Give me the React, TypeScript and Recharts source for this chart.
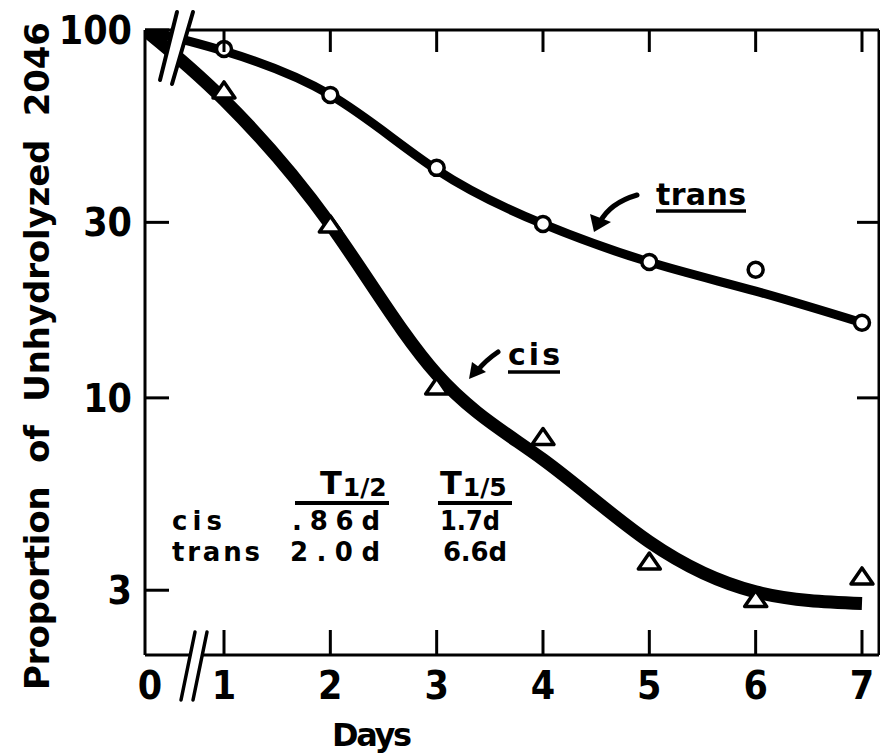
import React from 'react';
import { ComposedChart, Line, Scatter, XAxis, YAxis } from 'recharts';

// ---- data ----
const days = [0, 1, 2, 3, 4, 5, 6, 7];
const transFit = [100, 87.7, 66.6, 41.7, 29.7, 23.4, 19.5, 16.0];
const cisFit = [100, 64.6, 29.6, 11.6, 6.8, 4.06, 2.97, 2.76];
const obsDays = [1, 2, 3, 4, 5, 6, 7];
const transObs = [88.8, 66.6, 42.2, 29.7, 23.4, 22.3, 16.0];
const cisObs = [68.3, 29.5, 10.7, 7.8, 3.58, 2.83, 3.26];
const xTickDays = [0, 1, 2, 3, 4, 5, 6, 7];
const topTickDays = [1, 2, 3, 4, 5, 6, 7];
const yTicks = [3, 10, 30, 100];
const rightTicks = [10, 30];
const yDomain = [2, 100];
const BREAK_AT = 0.257; // axis position where day 0 sits (broken axis)
const X_MAX = 7.16;

const pos = (d: number) => (d === 0 ? BREAK_AT : d);

const fitData = days.map((d, i) => ({ x: pos(d), trans: transFit[i], cis: cisFit[i] }));
const transPts = obsDays.map((d, i) => ({ x: pos(d), y: transObs[i] }));
const cisPts = obsDays.map((d, i) => ({ x: pos(d), y: cisObs[i] }));

const NUM_FONT = "'Liberation Sans Narrow', 'DejaVu Sans Condensed', 'Liberation Sans', sans-serif";
const LBL_FONT = "'DejaVu Sans', 'Liberation Sans', sans-serif";
const INK = '#000';

const Y_MARGIN = 13;
const X_MARGIN = 14;

const LeftTick = (p: any) => {
  const ax = p.x + Y_MARGIN;
  return (
    <g>
      <line x1={ax} x2={ax + 24} y1={p.y} y2={p.y} stroke={INK} strokeWidth={3} />
      <text x={p.x} y={p.y} dy={14} textAnchor="end" fontFamily={NUM_FONT} fontWeight="bold" fontSize={39} fill={INK}>
        {p.payload.value}
      </text>
    </g>
  );
};

const BottomTick = (p: any) => {
  const ay = p.y - X_MARGIN;
  const v = p.payload.value;
  const isZero = v === BREAK_AT;
  return (
    <g>
      {!isZero && <line x1={p.x} x2={p.x} y1={ay} y2={ay - 25} stroke={INK} strokeWidth={3} />}
      <text x={isZero ? p.x + 5 : p.x} y={p.y} dy={30} textAnchor="middle" fontFamily={NUM_FONT} fontWeight="bold" fontSize={39} fill={INK}>
        {isZero ? '0' : v}
      </text>
    </g>
  );
};

const TopTick = (p: any) => (
  <line x1={p.x} x2={p.x} y1={p.y} y2={p.y + 22} stroke={INK} strokeWidth={3} />
);

const RightTick = (p: any) => (
  <line x1={p.x} x2={p.x - 22} y1={p.y} y2={p.y} stroke={INK} strokeWidth={3} />
);

const CircleMark = (p: any) => (
  <circle cx={p.cx} cy={p.cy} r={7.5} fill="#fff" stroke={INK} strokeWidth={3.5} />
);

const TriMark = (p: any) => (
  <polygon
    points={`${p.cx},${p.cy - 9} ${p.cx + 11},${p.cy + 7} ${p.cx - 11},${p.cy + 7}`}
    fill="#fff"
    stroke={INK}
    strokeWidth={3.5}
    strokeLinejoin="round"
  />
);

const axisLine = { stroke: INK, strokeWidth: 3 };
const tbl = { fontFamily: LBL_FONT, fontWeight: 'bold' as const, fill: INK, fontSize: 26 };

export default function App() {
  return (
    <div style={{ position: 'absolute', left: 0, top: 0, width: 880, height: 756, background: '#fff' }}>
      <ComposedChart width={880} height={756} data={fitData} margin={{ top: 0, right: 0, bottom: 0, left: 0 }}>
        <XAxis
          dataKey="x"
          type="number"
          domain={[BREAK_AT, X_MAX]}
          ticks={xTickDays.map(pos)}
          interval={0}
          allowDataOverflow
          height={101}
          tickSize={0}
          tickMargin={X_MARGIN}
          tickLine={false}
          axisLine={axisLine}
          tick={(p: any) => <BottomTick {...p} />}
        />
        <XAxis
          xAxisId="top"
          orientation="top"
          dataKey="x"
          type="number"
          domain={[BREAK_AT, X_MAX]}
          ticks={topTickDays}
          interval={0}
          allowDataOverflow
          height={30}
          tickSize={0}
          tickMargin={0}
          tickLine={false}
          axisLine={axisLine}
          tick={(p: any) => <TopTick {...p} />}
        />
        <YAxis
          type="number"
          scale="log"
          domain={yDomain}
          ticks={yTicks}
          interval={0}
          allowDataOverflow
          width={145}
          tickSize={0}
          tickMargin={Y_MARGIN}
          tickLine={false}
          axisLine={axisLine}
          tick={(p: any) => <LeftTick {...p} />}
        />
        <YAxis
          yAxisId="right"
          orientation="right"
          type="number"
          scale="log"
          domain={yDomain}
          ticks={rightTicks}
          interval={0}
          allowDataOverflow
          width={1}
          tickSize={0}
          tickMargin={0}
          tickLine={false}
          axisLine={axisLine}
          tick={(p: any) => <RightTick {...p} />}
        />
        <Line dataKey="trans" type="natural" stroke={INK} strokeWidth={9} dot={false} isAnimationActive={false} />
        <Line dataKey="cis" type="natural" stroke={INK} strokeWidth={13} dot={false} isAnimationActive={false} />
        <Scatter data={transPts} dataKey="y" shape={CircleMark} isAnimationActive={false} />
        <Scatter data={cisPts} dataKey="y" shape={TriMark} isAnimationActive={false} />
      </ComposedChart>

      <svg width={880} height={756} style={{ position: 'absolute', left: 0, top: 0, pointerEvents: 'none' }}>
        {/* axis breaks */}
        <polygon points="177,12 193,12 172,84 160,80" fill="#fff" />
        <line x1={177} y1={12} x2={160} y2={80} stroke={INK} strokeWidth={4} strokeLinecap="round" />
        <line x1={193} y1={12} x2={172} y2={84} stroke={INK} strokeWidth={4} strokeLinecap="round" />
        <polygon points="195,632 207,632 193,700 181,700" fill="#fff" />
        <line x1={195} y1={632} x2={181} y2={700} stroke={INK} strokeWidth={3.5} strokeLinecap="round" />
        <line x1={207} y1={632} x2={193} y2={700} stroke={INK} strokeWidth={3.5} strokeLinecap="round" />

        {/* axis titles */}
        <text
          transform="translate(49,356) rotate(-90)"
          textAnchor="middle"
          textLength={668}
          lengthAdjust="spacing"
          fontFamily={LBL_FONT}
          fontWeight="bold"
          fontSize={34}
          fill={INK}
          style={{ whiteSpace: 'pre' }}
        >
          {'Proportion  of  Unhydrolyzed  2046'}
        </text>
        <text x={332} y={746} textLength={80} lengthAdjust="spacing" fontFamily={LBL_FONT} fontWeight="bold" fontSize={32} fill={INK}>
          Days
        </text>

        {/* series annotations */}
        <text x={656} y={205} textLength={90} lengthAdjust="spacing" fontFamily={LBL_FONT} fontWeight="bold" fontSize={30} fill={INK}>
          trans
        </text>
        <line x1={656} x2={746} y1={211} y2={211} stroke={INK} strokeWidth={3.5} />
        <path d="M637,195 Q610,203 600,222" fill="none" stroke={INK} strokeWidth={5} strokeLinecap="round" />
        <polygon points="594,232 590,214 611,222" fill={INK} />

        <text x={508} y={365} textLength={52} lengthAdjust="spacing" fontFamily={LBL_FONT} fontWeight="bold" fontSize={30} fill={INK}>
          cis
        </text>
        <line x1={508} x2={560} y1={372} y2={372} stroke={INK} strokeWidth={3.5} />
        <path d="M498,352 Q486,360 477,371" fill="none" stroke={INK} strokeWidth={5} strokeLinecap="round" />
        <polygon points="469,379 472,362 486,372" fill={INK} />

        {/* half-life table */}
        <text x={320} y={494} fontFamily={LBL_FONT} fontWeight="bold" fontSize={32} fill={INK}>
          T<tspan fontSize={25} dx={1} dy={2}>1/2</tspan>
        </text>
        <line x1={295} x2={389} y1={503} y2={503} stroke={INK} strokeWidth={4} />
        <text x={440} y={494} fontFamily={LBL_FONT} fontWeight="bold" fontSize={32} fill={INK}>
          T<tspan fontSize={25} dx={1} dy={2}>1/5</tspan>
        </text>
        <line x1={438} x2={512} y1={503} y2={503} stroke={INK} strokeWidth={4} />

        <text {...tbl} x={172} y={530} textLength={50} lengthAdjust="spacing">cis</text>
        <text {...tbl} x={292} y={530} textLength={88} lengthAdjust="spacing">.86d</text>
        <text {...tbl} x={440} y={530} textLength={60} lengthAdjust="spacingAndGlyphs">1.7d</text>
        <text {...tbl} x={172} y={561} textLength={88} lengthAdjust="spacing">trans</text>
        <text {...tbl} x={290} y={561} textLength={90} lengthAdjust="spacing">2.0d</text>
        <text {...tbl} x={443} y={561} textLength={64} lengthAdjust="spacing">6.6d</text>
      </svg>
    </div>
  );
}
